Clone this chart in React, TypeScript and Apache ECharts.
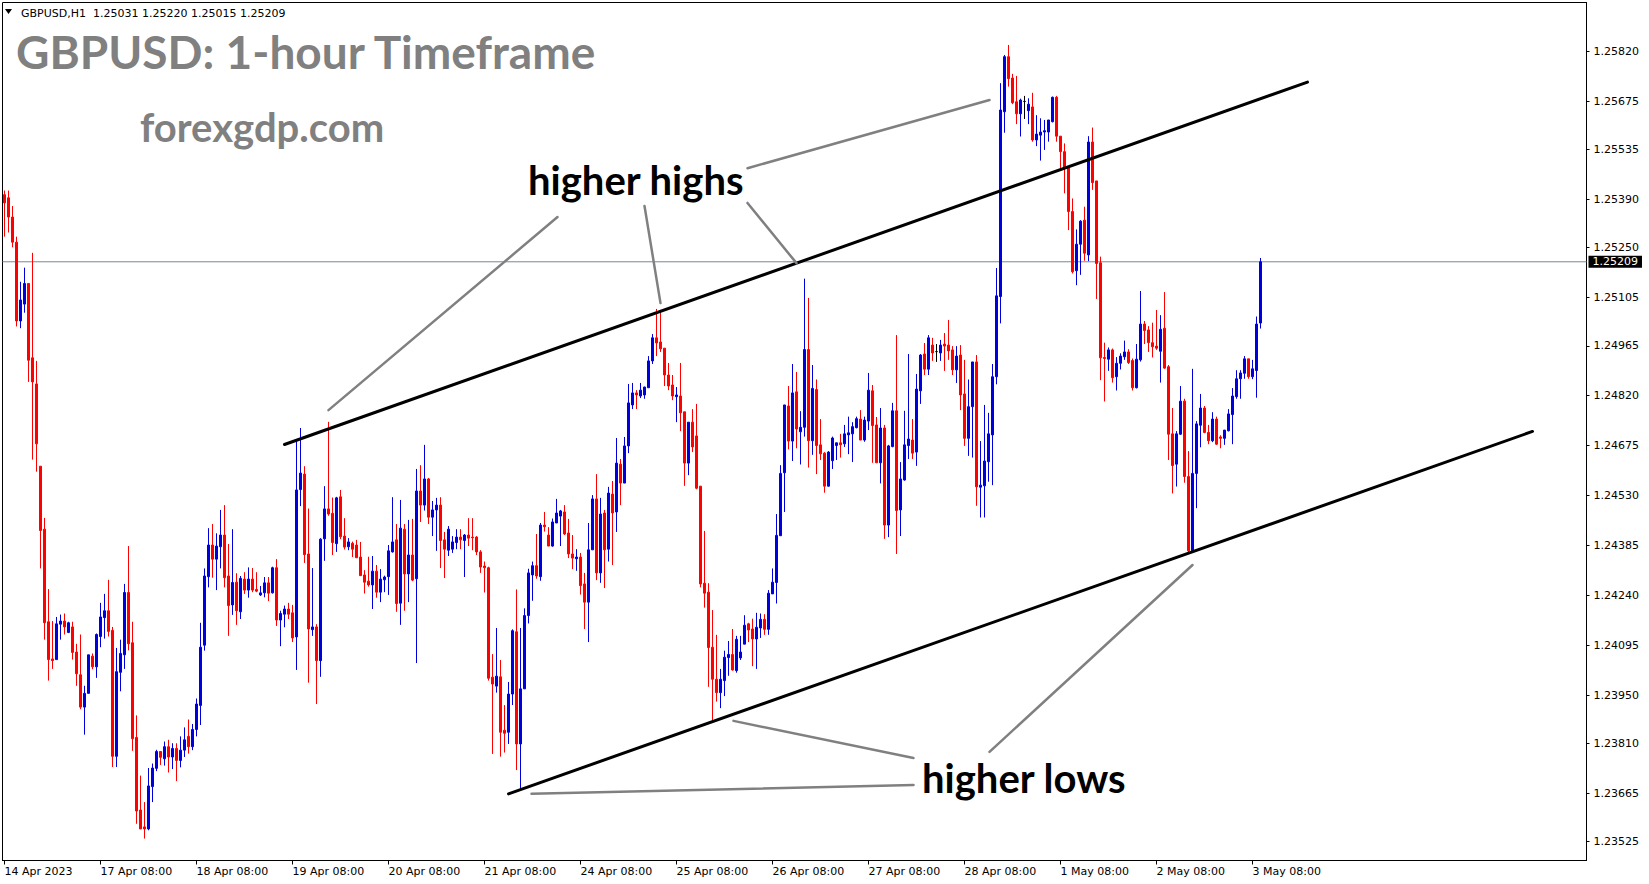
import React, { useEffect, useRef } from "react";
import * as echarts from "echarts";

// Hourly GBPUSD candles, one array per trading day: [open, close, low, high]
const apr14 = [
  [1.25404, 1.2538, 1.25282, 1.25416], [1.25395, 1.25339, 1.25294, 1.25416], [1.25339, 1.25266, 1.25251, 1.25371],
  [1.25266, 1.25037, 1.25021, 1.25282], [1.25037, 1.25098, 1.25016, 1.25151], [1.25086, 1.25146, 1.25061, 1.25192],
  [1.25146, 1.24923, 1.2486, 1.25146], [1.2493, 1.2486, 1.24634, 1.25235], [1.24854, 1.2468, 1.24599, 1.24921],
  [1.24615, 1.24428, 1.24318, 1.24615], [1.24432, 1.2416, 1.24111, 1.24465], [1.24163, 1.24053, 1.23992, 1.24258],
  [1.24055, 1.2405, 1.24026, 1.24165], [1.24053, 1.24157, 1.24053, 1.24177], [1.24156, 1.24165, 1.24111, 1.24184],
  [1.24165, 1.24148, 1.24126, 1.24187],
];
const apr17 = [
  [1.24132, 1.2416, 1.2413, 1.24163], [1.24148, 1.24074, 1.24053, 1.24163], [1.24075, 1.24012, 1.23977, 1.24099],
  [1.24009, 1.23915, 1.23909, 1.24126], [1.23915, 1.23955, 1.23835, 1.23977], [1.23955, 1.24067, 1.23955, 1.24067],
  [1.24063, 1.24032, 1.24025, 1.24071], [1.24032, 1.24126, 1.24, 1.24129], [1.2412, 1.24177, 1.24089, 1.24218],
  [1.24175, 1.24195, 1.24114, 1.24244], [1.24195, 1.24135, 1.2412, 1.24285], [1.24138, 1.23772, 1.23741, 1.24148],
  [1.23772, 1.24018, 1.23741, 1.24087], [1.24016, 1.24071, 1.23961, 1.24111], [1.24067, 1.24248, 1.24026, 1.24273],
  [1.24248, 1.24099, 1.2408, 1.24383], [1.24102, 1.23823, 1.23788, 1.24163], [1.23827, 1.23613, 1.23576, 1.23891],
  [1.23616, 1.23561, 1.23561, 1.23716], [1.23567, 1.23561, 1.23533, 1.23639], [1.23561, 1.23686, 1.23557, 1.23738],
  [1.23684, 1.23738, 1.23639, 1.23751], [1.23737, 1.23786, 1.23729, 1.23791], [1.23786, 1.23769, 1.23747, 1.23786],
];
const apr18 = [
  [1.23765, 1.238, 1.23745, 1.23815], [1.238, 1.2377, 1.23725, 1.2382], [1.2377, 1.23795, 1.23735, 1.2381],
  [1.23795, 1.2376, 1.237, 1.2381], [1.2376, 1.2379, 1.2374, 1.2383], [1.2379, 1.2382, 1.2377, 1.23856],
  [1.2383, 1.238, 1.2378, 1.23879], [1.238, 1.2385, 1.2379, 1.23866], [1.2385, 1.23924, 1.2383, 1.2394],
  [1.2392, 1.24089, 1.23863, 1.2416], [1.24095, 1.24296, 1.24079, 1.24318], [1.24294, 1.24386, 1.24263, 1.24435],
  [1.24386, 1.24345, 1.24291, 1.24447], [1.24345, 1.24383, 1.24255, 1.2442], [1.24381, 1.24415, 1.24318, 1.24488],
  [1.24415, 1.24291, 1.24263, 1.24502], [1.24296, 1.2421, 1.24122, 1.24389], [1.24212, 1.24277, 1.24183, 1.24432],
  [1.24278, 1.24195, 1.24154, 1.24304], [1.24192, 1.24289, 1.24171, 1.24296], [1.24287, 1.24255, 1.24244, 1.24307],
  [1.24255, 1.24287, 1.24233, 1.24321], [1.24287, 1.24255, 1.24249, 1.24319], [1.24257, 1.24252, 1.24249, 1.24307],
];
const apr19 = [
  [1.24241, 1.24247, 1.24238, 1.24267], [1.24247, 1.24276, 1.24234, 1.24293], [1.24276, 1.24246, 1.24223, 1.24293],
  [1.24247, 1.2432, 1.24245, 1.24323], [1.2432, 1.24168, 1.24151, 1.24345], [1.24168, 1.24187, 1.24092, 1.24195],
  [1.24185, 1.242, 1.24147, 1.2421], [1.242, 1.24185, 1.24171, 1.24218], [1.24189, 1.24116, 1.24104, 1.24212],
  [1.24119, 1.24546, 1.24023, 1.24689], [1.24547, 1.24595, 1.24499, 1.24726], [1.24592, 1.24358, 1.24334, 1.24615],
  [1.2436, 1.24142, 1.23986, 1.24492], [1.2414, 1.24148, 1.24122, 1.24319], [1.24148, 1.2405, 1.23924, 1.24156],
  [1.2405, 1.24403, 1.24003, 1.24406], [1.24404, 1.24491, 1.2434, 1.24557], [1.24491, 1.24476, 1.24471, 1.24744],
  [1.24478, 1.24393, 1.24357, 1.24524], [1.2439, 1.24523, 1.24366, 1.24526], [1.24526, 1.2441, 1.24403, 1.24546],
  [1.24412, 1.2438, 1.24373, 1.24464], [1.24381, 1.24395, 1.24371, 1.24406], [1.24391, 1.24374, 1.24351, 1.24396],
];
const apr20 = [
  [1.24386, 1.24349, 1.24349, 1.24401], [1.24351, 1.24297, 1.24297, 1.24395], [1.24299, 1.24278, 1.24245, 1.24313],
  [1.24281, 1.2427, 1.24265, 1.24352], [1.2427, 1.2431, 1.242, 1.24354], [1.2431, 1.24249, 1.24233, 1.24328],
  [1.24249, 1.24287, 1.2422, 1.24316], [1.24285, 1.24293, 1.24249, 1.24297], [1.24294, 1.24369, 1.24241, 1.24386],
  [1.24366, 1.24395, 1.24364, 1.24525], [1.24401, 1.24216, 1.24192, 1.24447], [1.24217, 1.24435, 1.24154, 1.24517],
  [1.24432, 1.24302, 1.24195, 1.24447], [1.24302, 1.24357, 1.2422, 1.24459], [1.24357, 1.24284, 1.24281, 1.24462],
  [1.24288, 1.24543, 1.24043, 1.24607], [1.24543, 1.24502, 1.24453, 1.24618], [1.24502, 1.24578, 1.24486, 1.24677],
  [1.24578, 1.24467, 1.24447, 1.24581], [1.24467, 1.24488, 1.24412, 1.24514], [1.24488, 1.24502, 1.24369, 1.24523],
  [1.24502, 1.24399, 1.24319, 1.24525], [1.24401, 1.24374, 1.2429, 1.24424], [1.24371, 1.24432, 1.24354, 1.24441],
];
const apr21 = [
  [1.24374, 1.24395, 1.24363, 1.24412], [1.24393, 1.24409, 1.24374, 1.24432], [1.24409, 1.24401, 1.24374, 1.24432],
  [1.24399, 1.24415, 1.24293, 1.24418], [1.24415, 1.24406, 1.24383, 1.24464], [1.24409, 1.24407, 1.24371, 1.24464],
  [1.24409, 1.24366, 1.24357, 1.24412], [1.24366, 1.24322, 1.24305, 1.24371], [1.24325, 1.2432, 1.24248, 1.24338],
  [1.2432, 1.23999, 1.23992, 1.24323], [1.24002, 1.23982, 1.23779, 1.24069], [1.23976, 1.24005, 1.23957, 1.24145],
  [1.24003, 1.23842, 1.23771, 1.24052], [1.23848, 1.23839, 1.23783, 1.23921], [1.23842, 1.23953, 1.23808, 1.23988],
  [1.23953, 1.24137, 1.23921, 1.24141], [1.24134, 1.23808, 1.23732, 1.24257], [1.23808, 1.23968, 1.23674, 1.24145],
  [1.23968, 1.24181, 1.23968, 1.24202], [1.24181, 1.24305, 1.24158, 1.24317], [1.24299, 1.24326, 1.24224, 1.24338],
  [1.24326, 1.24296, 1.24288, 1.24418], [1.24294, 1.24444, 1.24282, 1.2445], [1.24444, 1.24439, 1.24425, 1.24482],
];
const apr24 = [
  [1.24415, 1.24383, 1.24383, 1.24438], [1.24383, 1.24453, 1.24381, 1.24463], [1.2445, 1.24479, 1.2445, 1.2452],
  [1.2447, 1.24485, 1.24383, 1.24488], [1.24482, 1.24418, 1.24415, 1.24502], [1.24421, 1.2436, 1.24348, 1.24462],
  [1.2436, 1.24348, 1.24316, 1.24415], [1.24346, 1.24351, 1.24311, 1.24374], [1.24351, 1.24268, 1.24242, 1.24363],
  [1.24273, 1.2422, 1.24142, 1.24305], [1.2422, 1.24372, 1.24104, 1.2445], [1.24372, 1.2452, 1.24372, 1.24531],
  [1.2452, 1.24305, 1.24284, 1.24592], [1.24305, 1.24476, 1.24276, 1.24523], [1.24479, 1.24372, 1.24261, 1.24488],
  [1.24374, 1.24537, 1.24338, 1.24555], [1.24534, 1.24479, 1.24328, 1.24572], [1.24482, 1.24624, 1.24424, 1.24697],
  [1.24621, 1.24566, 1.24502, 1.24636], [1.24566, 1.24674, 1.24566, 1.247], [1.24674, 1.24799, 1.24653, 1.24854],
  [1.24793, 1.24828, 1.24781, 1.24857], [1.24828, 1.24822, 1.24781, 1.24836], [1.24819, 1.24836, 1.24813, 1.24857],
];
const apr25 = [
  [1.24822, 1.24845, 1.24811, 1.24846], [1.24843, 1.24921, 1.24843, 1.24935], [1.24921, 1.24988, 1.24912, 1.24999],
  [1.24988, 1.24973, 1.24935, 1.25072], [1.24976, 1.24956, 1.24947, 1.25069], [1.24958, 1.2488, 1.24848, 1.24958],
  [1.2488, 1.24848, 1.24836, 1.24915], [1.24851, 1.24819, 1.24807, 1.2488], [1.24817, 1.24822, 1.24743, 1.24845],
  [1.24819, 1.2477, 1.24717, 1.24915], [1.24773, 1.24624, 1.24558, 1.24773], [1.24624, 1.24743, 1.24589, 1.24743],
  [1.24743, 1.24671, 1.24656, 1.24781], [1.24703, 1.24551, 1.24548, 1.24796], [1.24557, 1.24273, 1.24263, 1.24557],
  [1.24275, 1.24246, 1.24204, 1.24427], [1.24249, 1.24088, 1.23974, 1.24275], [1.24089, 1.23996, 1.23873, 1.24197],
  [1.23996, 1.23957, 1.23931, 1.24125], [1.23957, 1.23996, 1.23912, 1.24026], [1.23992, 1.2406, 1.23947, 1.24079],
  [1.24059, 1.24068, 1.24006, 1.24107], [1.24068, 1.24023, 1.24021, 1.24142], [1.24021, 1.24112, 1.24015, 1.24122],
];
const apr26 = [
  [1.24058, 1.24075, 1.24052, 1.24122], [1.24098, 1.24153, 1.24098, 1.24182], [1.24157, 1.24139, 1.24104, 1.2416],
  [1.24142, 1.24113, 1.24034, 1.24172], [1.24113, 1.24147, 1.24026, 1.24189], [1.24145, 1.2417, 1.24116, 1.24187],
  [1.2417, 1.24141, 1.24125, 1.24185], [1.24141, 1.24246, 1.24125, 1.24255], [1.24244, 1.24278, 1.24244, 1.24318],
  [1.24277, 1.24414, 1.24216, 1.24476], [1.24413, 1.24594, 1.24413, 1.24618], [1.24596, 1.24793, 1.24482, 1.24793],
  [1.2479, 1.24688, 1.24664, 1.24848], [1.24688, 1.24828, 1.2463, 1.24912], [1.24831, 1.24723, 1.24667, 1.24889],
  [1.24715, 1.24728, 1.2462, 1.24775], [1.24728, 1.24954, 1.24701, 1.2516], [1.24954, 1.24689, 1.24611, 1.25104],
  [1.24689, 1.24841, 1.24648, 1.24909], [1.24838, 1.24675, 1.24592, 1.24867], [1.24677, 1.24651, 1.24633, 1.24752],
  [1.24653, 1.24557, 1.24538, 1.24656], [1.24557, 1.24656, 1.24556, 1.24659], [1.24631, 1.24697, 1.24607, 1.24701],
];
const apr27 = [
  [1.24675, 1.24683, 1.24633, 1.24683], [1.24683, 1.24677, 1.2464, 1.24709], [1.2468, 1.24709, 1.24671, 1.24735],
  [1.24706, 1.24712, 1.2465, 1.24759], [1.24709, 1.2473, 1.24627, 1.24743], [1.24727, 1.24753, 1.24725, 1.24759],
  [1.24752, 1.24691, 1.24691, 1.24778], [1.24691, 1.24749, 1.24686, 1.24759], [1.24746, 1.24836, 1.2472, 1.24886],
  [1.24834, 1.24733, 1.24625, 1.24851], [1.24735, 1.24625, 1.24625, 1.24758], [1.24625, 1.24726, 1.24565, 1.24784],
  [1.24726, 1.24444, 1.24404, 1.24735], [1.24444, 1.24674, 1.24409, 1.24677], [1.24672, 1.24776, 1.2467, 1.24799],
  [1.24776, 1.24486, 1.2436, 1.24996], [1.24488, 1.24578, 1.24412, 1.24627], [1.24575, 1.24677, 1.24573, 1.24776],
  [1.24675, 1.24694, 1.24636, 1.24941], [1.24691, 1.24653, 1.24636, 1.24752], [1.24656, 1.24839, 1.24616, 1.24883],
  [1.24834, 1.24938, 1.24796, 1.24941], [1.24941, 1.24897, 1.2488, 1.24973], [1.24897, 1.24988, 1.2488, 1.24996],
];
const apr28 = [
  [1.24967, 1.24944, 1.24921, 1.24988], [1.24948, 1.24948, 1.24918, 1.2497], [1.24944, 1.24967, 1.24921, 1.24982],
  [1.2497, 1.24964, 1.24892, 1.25002], [1.24967, 1.2495, 1.24924, 1.2504], [1.24953, 1.24895, 1.2488, 1.24964],
  [1.24895, 1.24935, 1.24857, 1.24964], [1.24938, 1.24822, 1.24778, 1.24967], [1.24825, 1.24696, 1.24674, 1.24924],
  [1.24696, 1.24788, 1.24645, 1.24867], [1.24788, 1.24918, 1.2464, 1.24918], [1.24918, 1.24555, 1.245, 1.24938],
  [1.24554, 1.2456, 1.24466, 1.24688], [1.24558, 1.2463, 1.24466, 1.24793], [1.24628, 1.24709, 1.2457, 1.2477],
  [1.24706, 1.24875, 1.2456, 1.24912], [1.24875, 1.2511, 1.24853, 1.25191], [1.25108, 1.2565, 1.2503, 1.25728],
  [1.25645, 1.25805, 1.25584, 1.2581], [1.25805, 1.25741, 1.25718, 1.25839], [1.25743, 1.25671, 1.25667, 1.25755],
  [1.25674, 1.25639, 1.25609, 1.25749], [1.25639, 1.25679, 1.25573, 1.25683], [1.25675, 1.25675, 1.25624, 1.25691],
];
const may01 = [
  [1.25648, 1.25667, 1.25609, 1.25684], [1.25659, 1.25563, 1.25558, 1.257], [1.25563, 1.2558, 1.25545, 1.25635],
  [1.25577, 1.25586, 1.25503, 1.25626], [1.25586, 1.2559, 1.25534, 1.25621], [1.25586, 1.25621, 1.25558, 1.25621],
  [1.25616, 1.25687, 1.25614, 1.25689], [1.25687, 1.25574, 1.25558, 1.25691], [1.25574, 1.25529, 1.25474, 1.25574],
  [1.25529, 1.25482, 1.25408, 1.25553], [1.25482, 1.25355, 1.25301, 1.25485], [1.25355, 1.2518, 1.25175, 1.25393],
  [1.25183, 1.2526, 1.25141, 1.25303], [1.2526, 1.25327, 1.25171, 1.2533], [1.2533, 1.25234, 1.25212, 1.25369],
  [1.25229, 1.25557, 1.25211, 1.25574], [1.25557, 1.25439, 1.25418, 1.25599], [1.25444, 1.25204, 1.25101, 1.25444],
  [1.25206, 1.2493, 1.24865, 1.25224], [1.24931, 1.24928, 1.24803, 1.24974], [1.24926, 1.24953, 1.24892, 1.2496],
  [1.24953, 1.24872, 1.24858, 1.24957], [1.24875, 1.24914, 1.24835, 1.24932], [1.24914, 1.24935, 1.24896, 1.24943],
];
const may02 = [
  [1.24933, 1.24947, 1.24924, 1.2498], [1.24947, 1.24916, 1.24912, 1.24955], [1.24922, 1.24843, 1.24835, 1.24928],
  [1.24843, 1.24926, 1.24841, 1.2497], [1.24924, 1.25028, 1.24919, 1.25124], [1.25028, 1.25009, 1.2497, 1.25037],
  [1.25011, 1.24974, 1.24947, 1.25022], [1.24974, 1.24962, 1.24931, 1.25032], [1.24964, 1.24958, 1.24953, 1.25069],
  [1.24949, 1.25013, 1.24858, 1.25054], [1.25016, 1.249, 1.24898, 1.25121], [1.24904, 1.24708, 1.24633, 1.24909],
  [1.24709, 1.24617, 1.24536, 1.24784], [1.24621, 1.24709, 1.24556, 1.24717], [1.24708, 1.24804, 1.24706, 1.24848],
  [1.24804, 1.24585, 1.24567, 1.24811], [1.24585, 1.24369, 1.24365, 1.24659], [1.24369, 1.24594, 1.24365, 1.24898],
  [1.24594, 1.24738, 1.24493, 1.24746], [1.24734, 1.24784, 1.2467, 1.24825], [1.24784, 1.24713, 1.24711, 1.2479],
  [1.24713, 1.24689, 1.24679, 1.24735], [1.24689, 1.24752, 1.24685, 1.24772], [1.24752, 1.24679, 1.24677, 1.24759],
];
const may03 = [
  [1.247, 1.24696, 1.24667, 1.24705], [1.24696, 1.2472, 1.24677, 1.2472], [1.24718, 1.24767, 1.24716, 1.24781],
  [1.24765, 1.24819, 1.24679, 1.24842], [1.24817, 1.24869, 1.24811, 1.24894], [1.24869, 1.24886, 1.24811, 1.24894],
  [1.24885, 1.24927, 1.24869, 1.24935], [1.24927, 1.24875, 1.24869, 1.24927], [1.24875, 1.24898, 1.24868, 1.24924],
  [1.24893, 1.25028, 1.24814, 1.2505], [1.25031, 1.25209, 1.25015, 1.2522],
];

// Axis texts
const xTickIndex = [0, 24, 48, 72, 96, 120, 144, 168, 192, 216, 240, 264, 288, 312];
const xTickLabels = [
  "14 Apr 2023", "17 Apr 08:00", "18 Apr 08:00", "19 Apr 08:00", "20 Apr 08:00", "21 Apr 08:00", "24 Apr 08:00",
  "25 Apr 08:00", "26 Apr 08:00", "27 Apr 08:00", "28 Apr 08:00", "1 May 08:00", "2 May 08:00", "3 May 08:00",
];
const yTickValues = [
  1.2582, 1.25675, 1.25535, 1.2539, 1.2525, 1.25105, 1.24965, 1.2482, 1.24675, 1.2453, 1.24385, 1.2424, 1.24095,
  1.2395, 1.2381, 1.23665, 1.23525,
];
const bidPrice = 1.25209;
const headerText = "GBPUSD,H1\u00a0\u00a01.25031 1.25220 1.25015 1.25209";

// Annotation lines: [[candleIndex, price], [candleIndex, price]]
const channelLines = [
  [[70.0, 1.24678], [325.75, 1.25731]],
  [[126.0, 1.23663], [382.0, 1.24716]],
];
const pointerLines = [
  [[138.25, 1.25339], [81.0, 1.24778]],
  [[160.0, 1.25371], [164.0, 1.25089]],
  [[185.75, 1.2538], [198.0, 1.25205]],
  [[185.75, 1.25481], [246.25, 1.25679]],
  [[227.25, 1.23767], [182.25, 1.23875]],
  [[227.25, 1.23689], [131.75, 1.23663]],
  [[246.25, 1.23785], [297.0, 1.24328]],
];

const SLOTS = 396;
const Y_MIN = 1.234693;
const Y_MAX = 1.259624;
const BLUE = "#0000dd";
const RED = "#ff0000";
const FONT = "DejaVu Sans";

export default function App() {
  const ref = useRef<HTMLDivElement>(null);

  useEffect(() => {
    if (!ref.current) return;
    const chart = echarts.init(ref.current, null, { renderer: "svg" });
    const candles = [apr14, apr17, apr18, apr19, apr20, apr21, apr24, apr25, apr26, apr27, apr28, may01, may02, may03].flat();
    const categories = Array.from({ length: SLOTS }, (_, i) => String(i));
    const labelMap = new Map<number, string>();
    xTickIndex.forEach((idx, k) => labelMap.set(idx, xTickLabels[k]));

    const lineSeries = (pts: number[][], color: string, width: number) => ({
      type: "line",
      xAxisIndex: 1,
      yAxisIndex: 0,
      data: pts,
      symbol: "none",
      silent: true,
      lineStyle: { color, width, cap: "round" },
      z: 5,
    });

    const option: any = {
      animation: false,
      backgroundColor: "#ffffff",
      grid: {
        left: 2.5,
        right: 62.5,
        top: 2.5,
        bottom: 23.5,
        show: true,
        borderColor: "#000",
        borderWidth: 1,
        backgroundColor: "transparent",
      },
      xAxis: [
        {
          type: "category",
          data: categories,
          boundaryGap: true,
          axisLine: { show: true, onZero: false, lineStyle: { color: "#000", width: 1 } },
          axisTick: {
            show: true,
            alignWithLabel: true,
            length: 4,
            interval: (i: number) => labelMap.has(i),
            lineStyle: { color: "#000" },
          },
          axisLabel: {
            show: true,
            interval: (i: number) => labelMap.has(i),
            formatter: (_v: string, i: number) => labelMap.get(i) ?? "",
            align: "left",
            margin: 5,
            color: "#000",
            fontFamily: FONT,
            fontSize: 11,
          },
          splitLine: { show: false },
        },
        {
          type: "value",
          min: -0.5,
          max: SLOTS - 0.5,
          show: false,
          position: "top",
          axisLine: { onZero: false },
          splitLine: { show: false },
        },
      ],
      yAxis: {
        type: "value",
        position: "right",
        min: Y_MIN,
        max: Y_MAX,
        scale: true,
        splitLine: { show: false },
        axisLine: { show: true, onZero: false, lineStyle: { color: "#000" } },
        axisTick: { show: true, length: 3, customValues: yTickValues, lineStyle: { color: "#000" } },
        axisLabel: {
          show: true,
          customValues: yTickValues,
          formatter: (v: number) => v.toFixed(5),
          margin: 7,
          color: "#000",
          fontFamily: FONT,
          fontSize: 11,
        },
      },
      series: [
        {
          type: "line",
          xAxisIndex: 1,
          yAxisIndex: 0,
          data: [[-0.5, bidPrice], [SLOTS - 0.5, bidPrice]],
          symbol: "none",
          silent: true,
          lineStyle: { color: "#778899", width: 1 },
          endLabel: {
            show: true,
            distance: 2,
            formatter: () => bidPrice.toFixed(5),
            color: "#fff",
            backgroundColor: "#000",
            padding: [1, 4, 0, 4],
            fontFamily: FONT,
            fontSize: 11,
          },
          z: 2,
        },
        {
          type: "candlestick",
          data: candles,
          barWidth: 2,
          itemStyle: {
            color: BLUE,
            color0: RED,
            borderColor: BLUE,
            borderColor0: RED,
            borderColorDoji: "#000",
            borderWidth: 1,
          },
          z: 3,
        },
        ...channelLines.map((l) => lineSeries(l, "#000", 3)),
        ...pointerLines.map((l) => lineSeries(l, "#808080", 2.5)),
      ],
      graphic: [
        { type: "polygon", shape: { points: [[5, 9], [12, 9], [8.5, 14]] }, style: { fill: "#000" } },
        {
          type: "text",
          x: 21,
          y: 13,
          style: { text: headerText, fill: "#000", font: `11px "${FONT}"`, verticalAlign: "middle" },
        },
        {
          type: "text",
          x: 16,
          y: 51,
          style: { text: "GBPUSD: 1-hour Timeframe", fill: "#808080", font: 'bold 46px "Lato"', verticalAlign: "middle" },
        },
        {
          type: "text",
          x: 140,
          y: 127,
          style: { text: "forexgdp.com", fill: "#808080", font: 'bold 40px "Lato"', verticalAlign: "middle" },
        },
        {
          type: "text",
          x: 528,
          y: 180,
          style: { text: "higher highs", fill: "#000", font: 'bold 40px "Lato"', verticalAlign: "middle" },
        },
        {
          type: "text",
          x: 922,
          y: 778,
          style: { text: "higher lows", fill: "#000", font: 'bold 40px "Lato"', verticalAlign: "middle" },
        },
      ],
    };

    chart.setOption(option);
    return () => chart.dispose();
  }, []);

  return (
    <div
      ref={ref}
      style={{ position: "fixed", left: 0, top: 0, width: 1649, height: 884, background: "#fff" }}
    />
  );
}
